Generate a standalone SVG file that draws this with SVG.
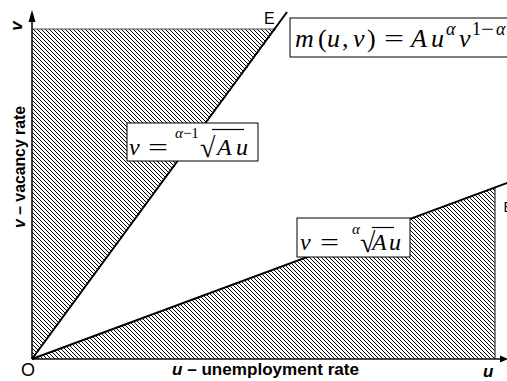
<svg xmlns="http://www.w3.org/2000/svg" width="507" height="381" viewBox="0 0 507 381">
<defs>
<pattern id="hatch" width="4" height="4" patternUnits="userSpaceOnUse">
<path d="M-1,-1 L5,5 M-1,3 L1,5 M3,-1 L5,1" stroke="#000" stroke-width="1" shape-rendering="crispEdges"/>
</pattern>
<style>
.sans{font-family:"Liberation Sans",Arial,sans-serif;fill:#000}
.lab{font-weight:bold;font-size:17px}
.mi{font-family:"Liberation Serif","Times New Roman",serif;font-style:italic;fill:#000}
.mr{font-family:"Liberation Serif","Times New Roman",serif;fill:#000}
.box{fill:#fff;stroke:#000;stroke-width:1}
.curve{stroke:#000;stroke-width:2;fill:none}
.axis{stroke:#111;stroke-width:1.6;fill:none}
.vinc{stroke:#000;stroke-width:1.2}
</style>
</defs>
<rect width="507" height="381" fill="#fff"/>

<g id="region-upper">
<polygon points="32,359 32,29 276,29" fill="url(#hatch)"/>
<line x1="32" y1="29" x2="276" y2="29" stroke="#555" stroke-width="1.2"/>
</g>
<g id="region-lower">
<polygon points="32,359 495,187.5 495,359" fill="url(#hatch)"/>
<line x1="495" y1="188" x2="495" y2="359" stroke="#333" stroke-width="1.2"/>
</g>

<g id="connectors">
<line class="axis" x1="32" y1="359" x2="32" y2="20"/>
<polygon points="32,10 28.5,22 35.5,22" fill="#000"/>
<line class="axis" x1="32" y1="359" x2="501" y2="359"/>
<polygon points="508,359 500,355.5 500,362.5" fill="#000"/>
<line class="curve" x1="32" y1="359" x2="287" y2="12"/>
<line class="curve" x1="32" y1="359" x2="508" y2="182.6"/>
</g>

<g id="label-origin"><text class="sans" x="21" y="376" font-size="18">O</text></g>
<g id="label-E"><text class="sans" x="264" y="24" font-size="16">E</text></g>
<g id="label-F"><text class="sans" x="503.5" y="212" font-size="14">E</text></g>

<g id="x-axis-label">
<text class="sans lab" x="172" y="375" textLength="187" lengthAdjust="spacingAndGlyphs"><tspan font-style="italic">u</tspan> – unemployment rate</text>
<text class="sans lab" x="483" y="377" font-style="italic">u</text>
</g>
<g id="y-axis-label">
<text class="sans lab" transform="translate(25,167) rotate(-90)" text-anchor="middle" textLength="122" lengthAdjust="spacingAndGlyphs"><tspan font-style="italic">v</tspan> – vacancy rate</text>
<text class="sans lab" transform="translate(22,26) rotate(-90)" text-anchor="middle" font-style="italic">v</text>
</g>

<g id="box-matching">
<rect class="box" x="290" y="18" width="240" height="39"/>
<text class="mi" x="295" y="47" font-size="26">m</text>
<text class="mr" x="318" y="47" font-size="26">(</text>
<text class="mi" x="327" y="47" font-size="26">u</text>
<text class="mr" x="342" y="47" font-size="26">,</text>
<text class="mi" x="353" y="47" font-size="26">v</text>
<text class="mr" x="367" y="47" font-size="26">)</text>
<text class="mr" x="384" y="47" font-size="26" textLength="20" lengthAdjust="spacingAndGlyphs">=</text>
<text class="mi" x="411" y="47" font-size="26">A</text>
<text class="mi" x="431" y="47" font-size="26">u</text>
<text class="mi" x="446" y="35" font-size="18">α</text>
<text class="mi" x="459" y="47" font-size="26">v</text>
<text class="mr" x="472" y="35" font-size="18">1</text>
<text class="mr" x="481" y="35" font-size="18" textLength="13" lengthAdjust="spacingAndGlyphs">−</text>
<text class="mi" x="496" y="35" font-size="18">α</text>
</g>

<g id="box-upper-line">
<rect class="box" x="127" y="123" width="131" height="38"/>
<text class="mi" x="129" y="155" font-size="24">v</text>
<text class="mr" x="148" y="155" font-size="24" textLength="20" lengthAdjust="spacingAndGlyphs">=</text>
<text class="mi" x="175" y="138" font-size="15">α<tspan font-style="normal">−1</tspan></text>
<text class="mr" x="200" y="157" font-size="28">√</text>
<line class="vinc" x1="212" y1="129.5" x2="244" y2="129.5"/>
<text class="mi" x="217" y="155" font-size="24">A</text>
<text class="mi" x="236" y="155" font-size="24">u</text>
</g>

<g id="box-lower-line">
<rect class="box" x="297" y="218" width="113" height="39"/>
<text class="mi" x="300" y="250" font-size="24">v</text>
<text class="mr" x="320" y="250" font-size="24" textLength="19" lengthAdjust="spacingAndGlyphs">=</text>
<text class="mi" x="352" y="234" font-size="15">α</text>
<text class="mr" x="360" y="252" font-size="28">√</text>
<line class="vinc" x1="372" y1="227.5" x2="394" y2="227.5"/>
<text class="mi" x="372" y="250" font-size="24">A</text>
<text class="mi" x="389" y="250" font-size="24">u</text>
</g>
</svg>
